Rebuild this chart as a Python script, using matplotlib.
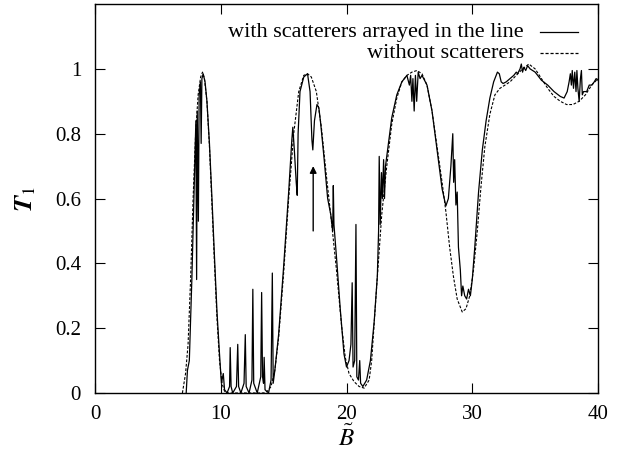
import numpy as np
import matplotlib
matplotlib.use("Agg")
import matplotlib.pyplot as plt

# transmission without scatterers (dashed)
dashed_x = [6.95, 7.2, 7.4, 7.6, 7.8, 8.0, 8.2, 8.4, 8.55, 8.7, 8.9, 9.1, 9.3, 9.5,
            9.7, 9.9, 10.1, 10.3, 10.6, 13.4, 13.7, 14.0, 14.3, 14.6, 15.0, 15.4,
            15.8, 16.2, 16.6, 16.9, 17.2, 17.6, 18.0, 18.4, 18.8, 19.2, 19.6, 19.9,
            20.2, 20.6, 21.0, 21.4, 21.8, 22.0, 22.4, 22.8, 23.2, 23.6, 24.0, 24.4,
            24.8, 25.2, 25.6, 26.0, 26.4, 26.8, 27.2, 27.6, 27.9, 28.2, 28.5, 28.8,
            29.2, 29.5, 29.8, 30.1, 30.4, 30.7, 31.0, 31.4, 31.8, 32.2, 32.6, 33.0,
            33.5, 34.0, 34.5, 35.0, 35.5, 36.0, 36.5, 37.0, 37.5, 38.0, 38.5, 39.0,
            39.5, 40.0]
dashed_y = [0.0, 0.06, 0.15, 0.35, 0.6, 0.8, 0.92, 0.975, 0.99, 0.97, 0.9, 0.76, 0.58, 0.4,
            0.23, 0.1, 0.03, 0.005, 0.0, 0.0, 0.005, 0.02, 0.07, 0.17, 0.37, 0.6,
            0.8, 0.93, 0.98, 0.985, 0.975, 0.93, 0.82, 0.67, 0.53, 0.38, 0.21, 0.11,
            0.06, 0.035, 0.02, 0.015, 0.04, 0.1, 0.33, 0.55, 0.7, 0.83, 0.91, 0.96,
            0.98, 0.99, 0.995, 0.985, 0.95, 0.87, 0.76, 0.65, 0.56, 0.45, 0.36, 0.29,
            0.25, 0.26, 0.3, 0.38, 0.5, 0.64, 0.76, 0.86, 0.92, 0.94, 0.95, 0.96,
            0.98, 1.0, 1.015, 1.0, 0.97, 0.94, 0.915, 0.9, 0.89, 0.89, 0.9, 0.92,
            0.95, 0.97]

# transmission with scatterers arrayed in the line (solid)
solid_x = [7.25, 7.35, 7.5, 7.7, 7.9, 8.02, 8.08, 8.13, 8.22, 8.28, 8.38, 8.44, 8.5, 8.6,
           8.75, 8.9, 9.1, 9.3, 9.5, 9.7, 9.9, 10.05, 10.2, 10.3, 10.5, 10.7, 10.75,
           10.82, 10.95, 11.25, 11.35, 11.42, 11.6, 11.85, 11.95, 12.02, 12.25, 12.48,
           12.55, 12.62, 12.9, 13.18, 13.25, 13.32, 13.4, 13.45, 13.52, 13.8, 14.0,
           14.1, 14.17, 14.3, 14.6, 15.0, 15.4, 15.65, 15.73, 15.85, 16.0, 16.08,
           16.15, 16.3, 16.6, 16.9, 17.1, 17.25, 17.32, 17.45, 17.65, 17.8, 17.95,
           18.2, 18.5, 18.75, 18.9, 18.95, 19.0, 19.2, 19.5, 19.8, 20.0, 20.2, 20.35,
           20.45, 20.52, 20.65, 20.75, 20.82, 20.95, 21.05, 21.12, 21.3, 21.6, 21.9,
           22.2, 22.45, 22.55, 22.6, 22.68, 22.78, 22.85, 22.95, 23.02, 23.1, 23.3,
           23.6, 24.0, 24.4, 24.8, 25.0, 25.1, 25.2, 25.28, 25.38, 25.48, 25.58, 25.7,
           25.85, 26.0, 26.4, 26.8, 27.2, 27.6, 27.9, 28.1, 28.3, 28.45, 28.52, 28.6,
           28.7, 28.8, 28.9, 29.05, 29.15, 29.25, 29.4, 29.55, 29.7, 29.85, 30.0,
           30.2, 30.5, 30.8, 31.1, 31.4, 31.7, 32.0, 32.15, 32.3, 32.45, 32.7, 33.0,
           33.3, 33.5, 33.6, 33.8, 33.9, 34.0, 34.1, 34.25, 34.4, 34.6, 35.0, 35.5,
           36.0, 36.5, 37.0, 37.3, 37.55, 37.7, 37.8, 37.88, 37.95, 38.05, 38.15,
           38.25, 38.32, 38.4, 38.5, 38.6, 38.68, 38.75, 38.85, 39.1, 39.3, 39.5,
           39.7, 39.85, 40.0]
solid_y = [0.0, 0.07, 0.1, 0.35, 0.65, 0.84, 0.35, 0.87, 0.53, 0.92, 0.96, 0.77, 0.97, 0.985,
           0.96, 0.9, 0.77, 0.6, 0.42, 0.25, 0.12, 0.03, 0.06, 0.01, 0.0, 0.02, 0.14,
           0.02, 0.0, 0.02, 0.15, 0.02, 0.0, 0.03, 0.18, 0.02, 0.0, 0.04,
           0.32, 0.03, 0.0, 0.05, 0.31, 0.05, 0.03, 0.11, 0.01, 0.0, 0.04,
           0.37, 0.03, 0.07, 0.18, 0.39, 0.62, 0.78, 0.82, 0.75, 0.65, 0.61,
           0.8, 0.93, 0.975, 0.985, 0.93, 0.78, 0.75, 0.84, 0.89, 0.88, 0.83,
           0.73, 0.6, 0.55, 0.5, 0.64, 0.52, 0.42, 0.26, 0.12, 0.08, 0.1, 0.15,
           0.34, 0.08, 0.1, 0.52, 0.05, 0.04, 0.1, 0.03, 0.02, 0.04, 0.1,
           0.22, 0.36, 0.5, 0.73, 0.52, 0.68, 0.6, 0.72, 0.6, 0.7, 0.76,
           0.85, 0.92, 0.96, 0.98, 0.95, 0.98, 0.9, 0.97, 0.87, 0.98, 0.9, 0.99,
           0.97, 0.98, 0.95, 0.87, 0.75, 0.63, 0.577, 0.6, 0.7, 0.8, 0.65, 0.72,
           0.58, 0.62, 0.45, 0.38, 0.3, 0.33, 0.3, 0.29, 0.32, 0.3, 0.35,
           0.45, 0.62, 0.75, 0.84, 0.91, 0.96, 0.99, 0.985, 0.96, 0.955, 0.96, 0.97,
           0.98, 0.99, 0.985, 1.0, 1.015, 0.99, 1.005, 0.995, 1.01, 1.0, 0.99, 0.965,
           0.95, 0.93, 0.915, 0.91, 0.93, 0.96, 0.985, 0.95, 0.995, 0.94, 0.99,
           0.93, 0.995, 0.94, 0.9, 0.97, 0.995, 0.92, 0.93, 0.93, 0.95, 0.95,
           0.96, 0.97, 0.965]

x_ticks = [0, 10, 20, 30, 40]
y_ticks = [0, 0.2, 0.4, 0.6, 0.8, 1]
y_ticklabels = ["0", "0.2", "0.4", "0.6", "0.8", "1"]
labels = ["with scatterers arrayed in the line", "without scatterers"]

# arrow marking the dip
arrow_x = 17.35
arrow_tail = 0.5
arrow_head = 0.70

plt.rcParams["font.family"] = ["Liberation Serif", "DejaVu Serif"]
plt.rcParams["mathtext.fontset"] = "stix"

fig = plt.figure(figsize=(6.21, 4.53), dpi=100)
ax = fig.add_axes([0.153, 0.1325, 0.81, 0.8585])

ax.plot(solid_x, solid_y, color="black", lw=0.9)
ax.plot(dashed_x, dashed_y, color="black", lw=0.8, dashes=(2.5, 1.5))

ax.annotate("", xy=(arrow_x, arrow_head), xytext=(arrow_x, arrow_tail),
            arrowprops=dict(arrowstyle="-|>", color="black", lw=1.0,
                            mutation_scale=10, shrinkA=0, shrinkB=0))

# gnuplot-style key: right-aligned text, sample line on the right
key_rows = [0.928, 0.874]
key_styles = [dict(ls="-"), dict(dashes=(2.5, 1.5))]
for lab, yy, st in zip(labels, key_rows, key_styles):
    ax.text(0.853, yy, lab, transform=ax.transAxes, ha="right", va="center",
            fontsize=16)
    ax.plot([0.885, 0.960], [yy, yy], transform=ax.transAxes, color="black",
            lw=0.9, **st)

ax.set_xlim(0, 40)
ax.set_ylim(0, 1.2)
ax.set_xticks(x_ticks)
ax.set_yticks(y_ticks)
ax.set_yticklabels(y_ticklabels)
ax.tick_params(direction="in", length=7, width=0.8, top=True, right=True,
               labelsize=15)
ax.tick_params(axis="y", pad=10)
ax.tick_params(axis="x", pad=9)
for sp in ax.spines.values():
    sp.set_linewidth(1.0)

ax.set_xlabel(r"$\tilde{B}$", fontsize=18, labelpad=0)
ax.set_ylabel(r"$\boldsymbol{T}_1$", fontsize=19, labelpad=12)

fig.savefig("out.png", dpi=100)
